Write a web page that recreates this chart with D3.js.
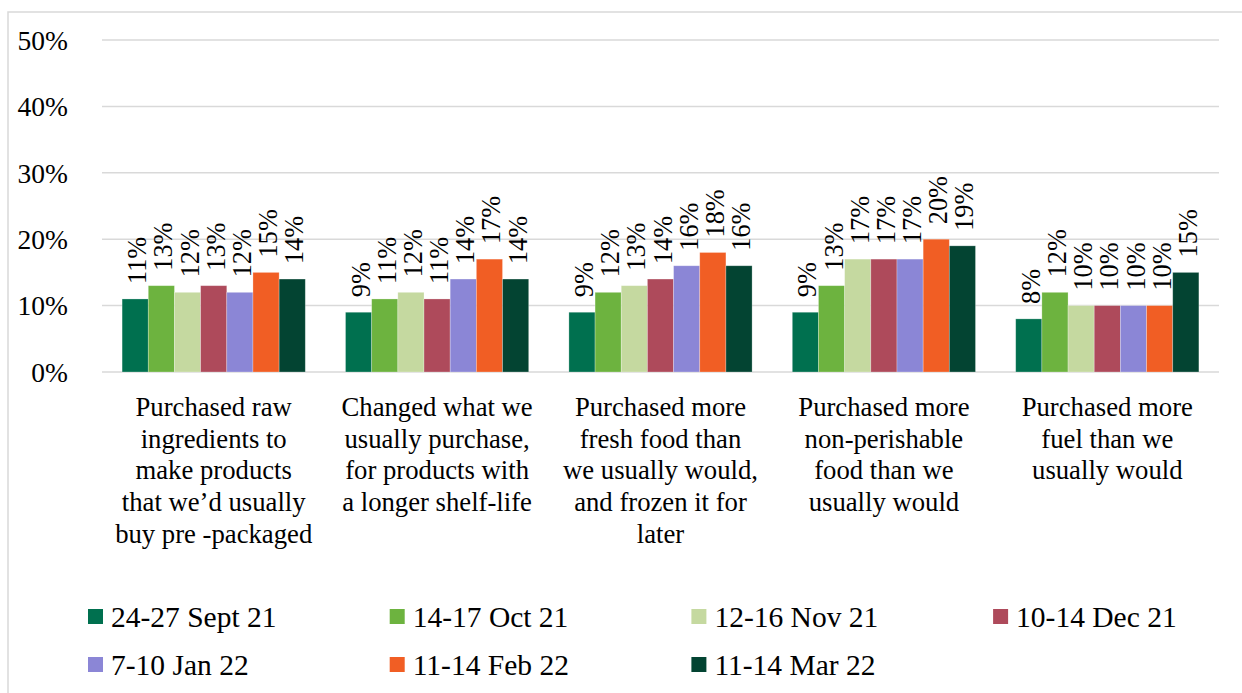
<!DOCTYPE html>
<html><head><meta charset="utf-8">
<script src="https://cdn.jsdelivr.net/npm/d3@7"></script>
<style>
html,body{margin:0;padding:0;background:#fff;}
svg{display:block;}
</style></head>
<body>
<svg id="c" width="1242" height="693"></svg>
<script>
const categories = [
  ["Purchased raw","ingredients to","make products","that we\u2019d usually","buy pre -packaged"],
  ["Changed what we","usually purchase,","for products with","a longer shelf-life"],
  ["Purchased more","fresh food than","we usually would,","and frozen it for","later"],
  ["Purchased more","non-perishable","food than we","usually would"],
  ["Purchased more","fuel than we","usually would"]
];
const seriesNames = ["24-27 Sept 21","14-17 Oct 21","12-16 Nov 21","10-14 Dec 21","7-10 Jan 22","11-14 Feb 22","11-14 Mar 22"];
const seriesColors = ["#00704f","#6db33f","#c5d9a0","#ae4a5b","#8b86d6","#f15e24","#034432"];
const sept21 = [11, 9, 9, 9, 8];
const oct21  = [13, 11, 12, 13, 12];
const nov21  = [12, 12, 13, 17, 10];
const dec21  = [13, 11, 14, 17, 10];
const jan22  = [12, 14, 16, 17, 10];
const feb22  = [15, 17, 18, 20, 10];
const mar22  = [14, 14, 16, 19, 15];
const seriesValues = [sept21, oct21, nov21, dec21, jan22, feb22, mar22];
const yTicks = [0, 10, 20, 30, 40, 50];

(function(){
const FONT = '"Liberation Serif","Times New Roman",serif';
const svg = d3.select("#c").style("font-family", FONT);
const FS = 26.7, LFS = 29.5, DFS = 26.3;
const pLeft = 102, pRight = 1219, pTop = 40, pBottom = 372;

svg.append("path").attr("d", "M8,693 L8,12 L1242,12")
  .attr("fill", "none").attr("stroke", "#d9d9d9").attr("stroke-width", 1.5);

const y = d3.scaleLinear().domain([0, 50]).range([pBottom, pTop]);
const x0 = d3.scaleBand().domain(d3.range(categories.length)).range([pLeft, pRight]).paddingInner(0.18).paddingOuter(0.09);
const x1 = d3.scaleBand().domain(d3.range(seriesNames.length)).range([0, x0.bandwidth()]);

svg.append("g").selectAll("line").data(yTicks).join("line")
  .attr("x1", pLeft).attr("x2", pRight)
  .attr("y1", d => y(d)).attr("y2", d => y(d))
  .attr("stroke", "#d9d9d9").attr("stroke-width", 1.5);

const yAxis = d3.axisLeft(y).tickValues(yTicks).tickFormat(d => d + "%").tickSize(0).tickPadding(0);
const ga = svg.append("g").attr("transform", `translate(68,0)`).call(yAxis);
ga.select(".domain").remove();
ga.attr("font-family", FONT);
ga.selectAll("text").attr("font-size", 27.5).attr("fill", "#000").attr("dy", "0.34em");

const groups = svg.append("g").selectAll("g").data(categories).join("g")
  .attr("transform", (d, i) => `translate(${x0(i)},0)`);
groups.each(function(cat, ci) {
  const g = d3.select(this);
  seriesNames.forEach((s, si) => {
    const v = seriesValues[si][ci];
    g.append("rect")
      .attr("x", x1(si)).attr("width", x1.bandwidth())
      .attr("y", y(v)).attr("height", y(0) - y(v))
      .attr("fill", seriesColors[si])
      .attr("stroke", "#ffffff").attr("stroke-opacity", 0.35).attr("stroke-width", 0.75);
    const cx = x1(si) + x1.bandwidth() / 2;
    g.append("text")
      .attr("transform", `translate(${cx},${y(v) - 15}) rotate(-90)`)
      .attr("dy", "0.42em")
      .attr("text-anchor", "start")
      .attr("font-size", DFS).attr("fill", "#000")
      .text(v + "%");
  });
});

categories.forEach((lines, ci) => {
  const cx = x0(ci) + x0.bandwidth() / 2;
  const t = svg.append("text").attr("text-anchor", "middle").attr("font-size", FS).attr("fill", "#000");
  lines.forEach((ln, li) => {
    t.append("tspan").attr("x", cx).attr("y", 416 + li * 31.7).text(ln);
  });
});

const legX0 = 88, legColW = 301.7;
const legRows = [609, 657];
seriesNames.forEach((s, i) => {
  const col = i % 4, row = Math.floor(i / 4);
  const lx = legX0 + col * legColW, ly = legRows[row];
  svg.append("rect").attr("x", lx).attr("y", ly).attr("width", 15).attr("height", 15).attr("fill", seriesColors[i]);
  svg.append("text").attr("x", lx + 23).attr("y", ly + 18).attr("font-size", LFS).attr("fill", "#000").text(s);
});
})();
</script>
</body></html>
